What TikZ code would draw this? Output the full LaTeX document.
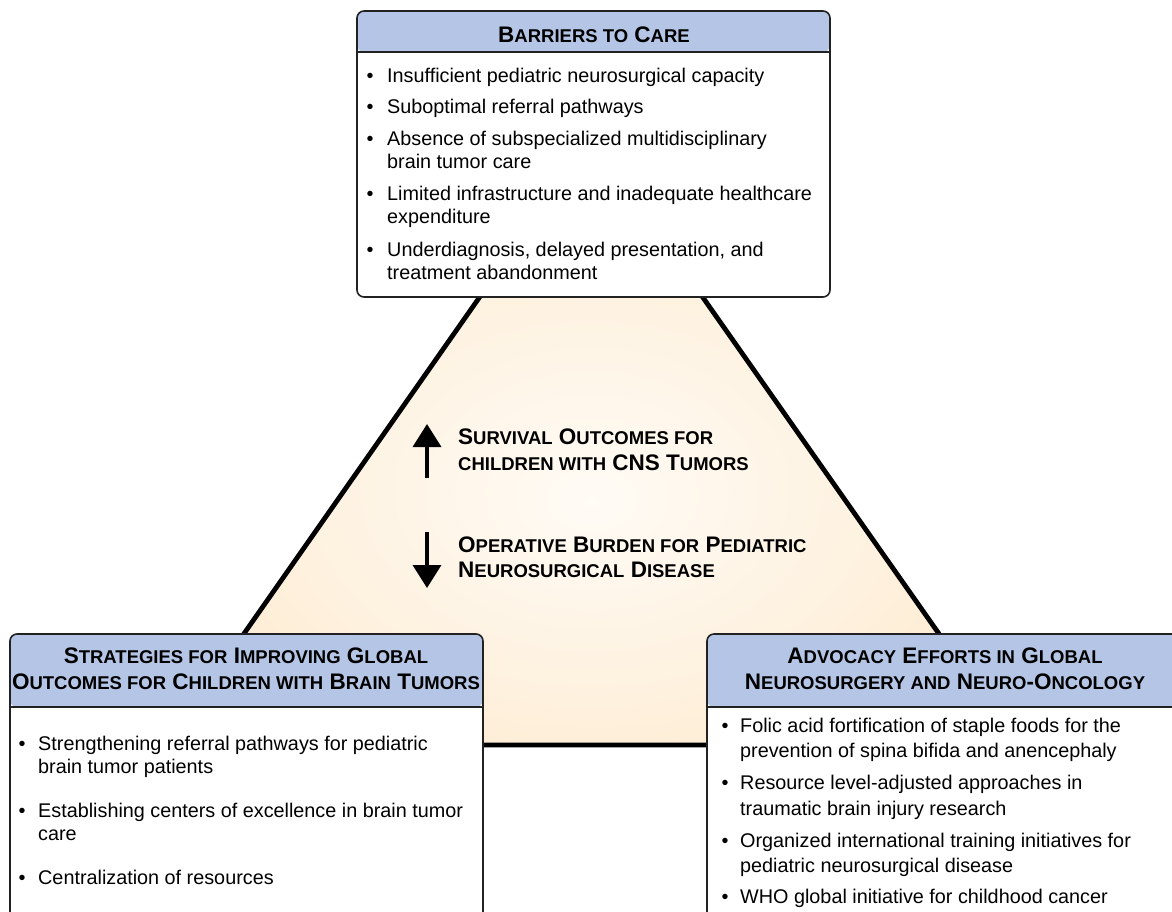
\documentclass[tikz,border=0pt]{standalone}
\usepackage{fontspec}
\setmainfont{Liberation Sans}
\usetikzlibrary{arrows.meta}
\definecolor{hdr}{HTML}{B4C5E6}
\definecolor{triout}{HTML}{FCDFB5}
\definecolor{triin}{HTML}{FFFBF5}
\definecolor{edge}{HTML}{222222}
\pgfdeclareradialshading{glow}{\pgfpoint{0bp}{-5bp}}{color(0bp)=(triin); color(50bp)=(triout)}
\newcommand\smc[1]{{\fontsize{18.5}{22}\selectfont #1}}
\tikzset{
  body/.style={font=\fontsize{19.8}{24}\selectfont, inner sep=0pt, anchor=base west, text=black},
  bul/.style={font=\fontsize{19.8}{24}\selectfont, inner sep=0pt, anchor=base, text=black},
  head/.style={font=\fontsize{22.5}{26}\selectfont\bfseries, inner sep=0pt, anchor=base, text=black},
  midtext/.style={head, anchor=base west},
  panel/.style={draw=edge, line width=1.6pt, fill=white, rounded corners=7pt, inner sep=0pt,
    path picture={\fill[hdr] (path picture bounding box.north west) rectangle ([yshift=-#1]path picture bounding box.north east);
      \draw[edge, line width=1.2pt] ([yshift=-#1]path picture bounding box.north west) -- ([yshift=-#1]path picture bounding box.north east);}},
  updown/.style={line width=3.6pt, -{Triangle[width=28pt,length=23pt]}},
}
\begin{document}
\begin{tikzpicture}[x=1pt,y=-1pt]
\useasboundingbox (0,0) rectangle (1172,911);
\clip (0,0) rectangle (1172,911);
% central triangle
\coordinate (apex) at (591,138);
\coordinate (bl) at (166,745);
\coordinate (br) at (1017,745);
\shade[shading=glow] (apex) -- (bl) -- (br) -- cycle;
\draw[line width=4.8pt, line join=miter] (apex) -- (bl) -- (br) -- cycle;

% panels
\node[panel=41pt, minimum width=473pt, minimum height=286pt] (barriers) at (593.5,154) {};
\node[panel=73pt, minimum width=473pt, minimum height=326pt] (strategies) at (246.5,797) {};
\node[panel=73pt, minimum width=476pt, minimum height=326pt] (advocacy) at (945,797) {};

% top box
\node[head] (hb) at (594,42) {B\smc{ARRIERS TO} C\smc{ARE}};
\node[bul] (b1d) at (370,82) {•};
\node[body] (b1) at (387,82) {Insufficient pediatric neurosurgical capacity};
\node[bul] (b2d) at (370,113) {•};
\node[body] (b2) at (387,113) {Suboptimal referral pathways};
\node[bul] (b3d) at (370,145) {•};
\node[body] (b3) at (387,145) {Absence of subspecialized multidisciplinary};
\node[body] (b3b) at (387,168) {brain tumor care};
\node[bul] (b4d) at (370,200) {•};
\node[body] (b4) at (387,200) {Limited infrastructure and inadequate healthcare};
\node[body] (b4b) at (387,223) {expenditure};
\node[bul] (b5d) at (370,256) {•};
\node[body] (b5) at (387,256) {Underdiagnosis, delayed presentation, and};
\node[body] (b5b) at (387,279) {treatment abandonment};

% left box
\node[head] (hl1) at (246,663) {S\smc{TRATEGIES FOR} I\smc{MPROVING} G\smc{LOBAL}};
\node[head] (hl2) at (246,689) {O\smc{UTCOMES FOR} C\smc{HILDREN WITH} B\smc{RAIN} T\smc{UMORS}};
\node[bul] (l1d) at (22,750) {•};
\node[body] (l1) at (38,750) {Strengthening referral pathways for pediatric};
\node[body] (l1b) at (38,773) {brain tumor patients};
\node[bul] (l2d) at (22,817) {•};
\node[body] (l2) at (38,817) {Establishing centers of excellence in brain tumor};
\node[body] (l2b) at (38,840) {care};
\node[bul] (l3d) at (22,884) {•};
\node[body] (l3) at (38,884) {Centralization of resources};

% right box
\node[head] (hr1) at (945,663) {A\smc{DVOCACY} E\smc{FFORTS IN} G\smc{LOBAL}};
\node[head] (hr2) at (945,689) {N\smc{EUROSURGERY AND} N\smc{EURO}-O\smc{NCOLOGY}};
\node[bul] (r1d) at (725,732) {•};
\node[body] (r1) at (740,732) {Folic acid fortification of staple foods for the};
\node[body] (r1b) at (740,757) {prevention of spina bifida and anencephaly};
\node[bul] (r2d) at (725,789) {•};
\node[body] (r2) at (740,789) {Resource level-adjusted approaches in};
\node[body] (r2b) at (740,815) {traumatic brain injury research};
\node[bul] (r3d) at (725,847) {•};
\node[body] (r3) at (740,847) {Organized international training initiatives for};
\node[body] (r3b) at (740,872) {pediatric neurosurgical disease};
\node[bul] (r4d) at (725,903) {•};
\node[body] (r4) at (740,903) {WHO global initiative for childhood cancer};

% centre
\coordinate (u0) at (427,478);
\coordinate (u1) at (427,424);
\draw[updown] (u0) -- (u1);
\coordinate (d0) at (427,532);
\coordinate (d1) at (427,588);
\draw[updown] (d0) -- (d1);
\node[midtext] (m1) at (458,444) {S\smc{URVIVAL} O\smc{UTCOMES FOR}};
\node[midtext] (m2) at (458,470) {\smc{CHILDREN WITH} CNS T\smc{UMORS}};
\node[midtext] (m3) at (458,552) {O\smc{PERATIVE} B\smc{URDEN FOR} P\smc{EDIATRIC}};
\node[midtext] (m4) at (458,577) {N\smc{EUROSURGICAL} D\smc{ISEASE}};
\end{tikzpicture}
\end{document}
